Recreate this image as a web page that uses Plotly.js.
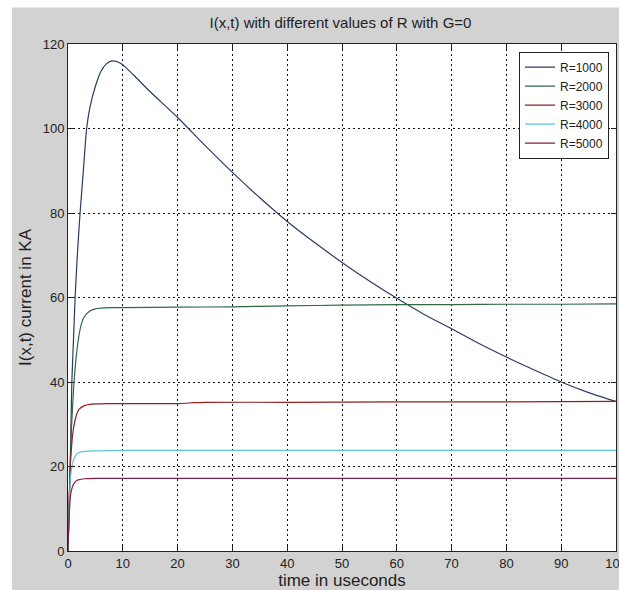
<!DOCTYPE html>
<html>
<head>
<meta charset="utf-8">
<script src="https://cdn.plot.ly/plotly-3.0.1.min.js"></script>
<style>html,body{margin:0;padding:0;background:#fff;}#chart{width:619px;height:590px;}</style>
</head>
<body>
<div id="chart"></div>
<script>
// ---- data ----
const seriesNames = ["R=1000", "R=2000", "R=3000", "R=4000", "R=5000"];

const t1000 = [0,0.2,0.4,0.7,1,1.3,1.7,2.2,2.8,3.4,4,5,6,7,8,9,10,12,15,20,25,30,35,40,45,50,55,60,65,70,75,80,85,90,95,100];
const i1000 = [0,10,20,40,50,60,70,80,90,100,105,110,113.5,115.3,116,115.8,115.1,112.6,108.7,102.6,96,89.6,83.6,78,73,68.3,63.9,59.8,56,52.6,49.1,45.9,42.9,40,37.5,35.4];

const t2000 = [0,0.3,0.6,1,1.5,2,2.5,3,4,5,6,8,10,20,30,40,50,60,70,80,90,100];
const i2000 = [0,15,28,38,46,51,54,55.5,56.8,57.3,57.5,57.6,57.6,57.7,57.8,58.0,58.2,58.3,58.3,58.4,58.4,58.5];

const t3000 = [0,0.2,0.5,1,1.5,2,3,4,5,7,10,20,23,25,40,60,80,100];
const i3000 = [0,12,22,29,32,33.5,34.4,34.7,34.8,34.9,34.9,34.9,35.1,35.2,35.2,35.3,35.3,35.4];

const t4000 = [0,0.2,0.5,1,1.5,2,3,5,10,100];
const i4000 = [0,10,18,21.5,22.8,23.3,23.6,23.7,23.8,23.8];

const t5000 = [0,0.2,0.5,1,1.5,2,3,5,10,100];
const i5000 = [0,8,13.5,15.8,16.6,16.9,17.1,17.2,17.2,17.2];

const xTicks = [0,10,20,30,40,50,60,70,80,90,100];
const yTicks = [0,20,40,60,80,100,120];

const colors = ["#2c3b66", "#2f6a45", "#8e2020", "#5cc4d4", "#7e2048"];
const tData = [t1000, t2000, t3000, t4000, t5000];
const iData = [i1000, i2000, i3000, i4000, i5000];

const traces = seriesNames.map((n, k) => ({
  type: "scatter", mode: "lines", name: n,
  x: tData[k], y: iData[k],
  line: {color: colors[k], width: 1.2, shape: "spline", smoothing: 0.6}
}));

const FONT = "'Liberation Sans Narrow', 'Liberation Sans', Arial, sans-serif";

const axisCommon = {
  showline: true, linecolor: "#222", linewidth: 1, mirror: "allticks",
  ticks: "inside", ticklen: 5, tickcolor: "#222",
  showgrid: true, gridcolor: "#111", gridwidth: 1, griddash: "2px,3px",
  zeroline: false, tickfont: {family: FONT, size: 13, color: "#222"},
  ticklabeloverflow: "allow"
};

const layout = {
  width: 619, height: 590,
  margin: {l: 68, r: 3, t: 44, b: 39},
  paper_bgcolor: "#d2d2d2", plot_bgcolor: "#ffffff",
  font: {family: FONT, color: "#222"},
  title: {text: "I(x,t) with different values of R with G=0", font: {family: FONT, size: 15, color: "#222"},
          x: 0.55, xanchor: "center", y: 0.962, yanchor: "middle"},
  xaxis: Object.assign({}, axisCommon, {
    range: [0, 100], tickvals: xTicks, ticktext: xTicks.map(String),
    title: {text: "time in useconds", font: {family: FONT, size: 17, color: "#222"}, standoff: 2}
  }),
  yaxis: Object.assign({}, axisCommon, {
    range: [0, 120], tickvals: yTicks, ticktext: yTicks.map(String),
    title: {text: "I(x,t) current in KA", font: {family: FONT, size: 17, color: "#222"}, standoff: 6}
  }),
  showlegend: true,
  legend: {x: 0.823, y: 0.985, xanchor: "left", yanchor: "top",
           bgcolor: "#ffffff", bordercolor: "#222", borderwidth: 1,
           font: {family: FONT, size: 12, color: "#222"}, tracegroupgap: 0},
  shapes: [
    {type: "rect", xref: "paper", yref: "paper", x0: -0.13, x1: -0.1022, y0: -0.1, y1: 1.1,
     fillcolor: "#ffffff", line: {width: 0}, layer: "below"},
    {type: "rect", xref: "paper", yref: "paper", x0: -0.13, x1: 1.02, y0: 1.072, y1: 1.1,
     fillcolor: "#ffffff", line: {width: 0}, layer: "below"}
  ]
};

Plotly.newPlot("chart", traces, layout, {displayModeBar: false, staticPlot: true});
</script>
</body>
</html>
